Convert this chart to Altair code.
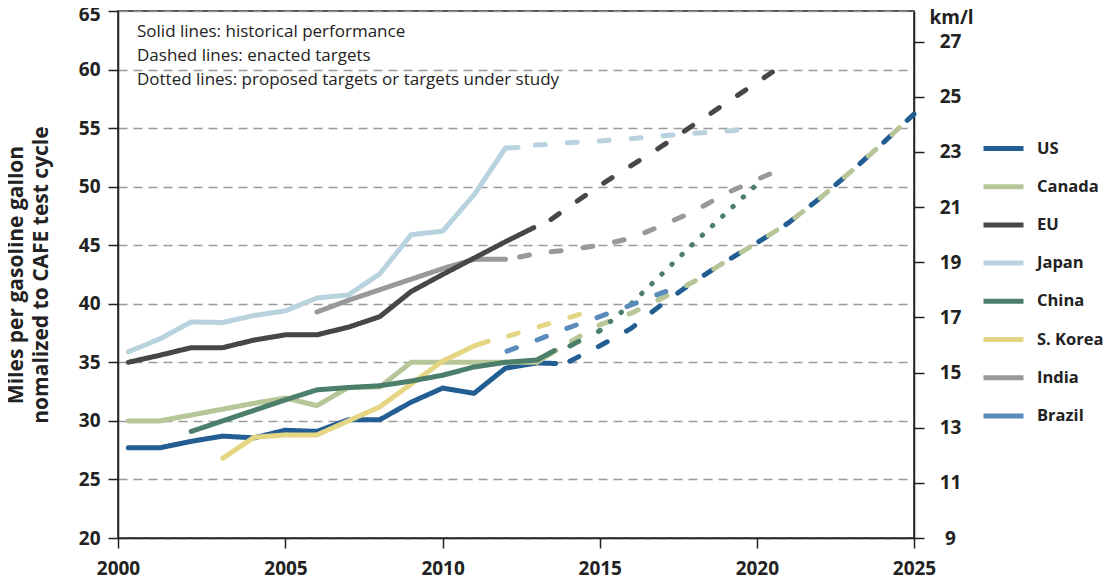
import altair as alt
import pandas as pd

FONT = "Open Sans"

COUNTRIES = ["US", "Canada", "EU", "Japan", "China", "S. Korea", "India", "Brazil"]
COLORS = ["#235e93", "#b6c699", "#474747", "#b8d3de", "#4b7f6a", "#e5d684", "#99999b", "#5b8bbb"]
DRAW_ORDER = ["US", "India", "Japan", "EU", "Canada", "S. Korea", "China", "Brazil"]

# ---- historical performance (solid) ----
US_HIST_YEARS = [2000, 2001, 2002, 2003, 2004, 2005, 2006, 2007, 2008, 2009, 2010, 2011, 2012, 2013, 2013.6]
US_HIST_MPG = [27.7, 27.7, 28.25, 28.7, 28.55, 29.2, 29.1, 30.1, 30.1, 31.6, 32.8, 32.35, 34.5, 34.95, 34.9]

CANADA_HIST_YEARS = [2000, 2001, 2002, 2003, 2004, 2005, 2006, 2007, 2008, 2009, 2010, 2011, 2012, 2013, 2013.6]
CANADA_HIST_MPG = [30.0, 30.0, 30.5, 31.0, 31.5, 31.95, 31.3, 32.85, 32.9, 35.0, 35.0, 35.0, 35.0, 35.0, 36.0]

EU_HIST_YEARS = [2000, 2001, 2002, 2003, 2004, 2005, 2006, 2007, 2008, 2009, 2010, 2011, 2012, 2012.9]
EU_HIST_MPG = [35.0, 35.6, 36.25, 36.25, 36.9, 37.35, 37.35, 38.0, 38.9, 41.05, 42.5, 43.9, 45.3, 46.5]

JAPAN_HIST_YEARS = [2000, 2001, 2002, 2003, 2004, 2005, 2006, 2007, 2008, 2009, 2010, 2011, 2012, 2012.4]
JAPAN_HIST_MPG = [35.9, 37.0, 38.45, 38.4, 39.0, 39.4, 40.5, 40.75, 42.55, 45.9, 46.2, 49.3, 53.3, 53.35]

CHINA_HIST_YEARS = [2002, 2003, 2004, 2005, 2006, 2007, 2008, 2009, 2010, 2011, 2012, 2013, 2013.55]
CHINA_HIST_MPG = [29.1, 30.0, 30.9, 31.8, 32.65, 32.85, 33.0, 33.4, 33.9, 34.6, 35.0, 35.2, 36.0]

KOREA_HIST_YEARS = [2003, 2004, 2005, 2006, 2007, 2008, 2009, 2010, 2011, 2011.45]
KOREA_HIST_MPG = [26.8, 28.6, 28.8, 28.8, 30.0, 31.2, 33.15, 35.1, 36.4, 36.8]

INDIA_HIST_YEARS = [2006, 2007, 2008, 2009, 2010, 2011, 2012]
INDIA_HIST_MPG = [39.3, 40.3, 41.2, 42.1, 43.0, 43.8, 43.8]

# ---- enacted targets (dashed) ----
US_TGT_YEARS = [2014.05, 2015, 2016, 2017, 2018, 2019, 2020, 2021, 2022, 2023, 2024, 2025]
US_TGT_MPG = [35.1, 36.4, 37.9, 40.0, 41.9, 43.6, 45.2, 46.9, 49.0, 51.3, 53.7, 56.2]

CANADA_TGT_YEARS = [2014.1, 2015, 2016, 2017, 2018, 2019, 2020, 2021, 2022, 2023, 2024, 2025]
CANADA_TGT_MPG = [36.8, 38.2, 39.2, 40.5, 41.9, 43.6, 45.2, 46.9, 49.0, 51.3, 53.7, 56.2]

EU_TGT_YEARS = [2013.45, 2014, 2015, 2016, 2017, 2018, 2019, 2020, 2021]
EU_TGT_MPG = [47.2, 48.25, 50.1, 51.8, 53.5, 55.3, 57.1, 58.9, 60.7]

JAPAN_TGT_YEARS = [2012.95, 2014, 2015, 2016, 2017, 2018, 2019, 2019.5]
JAPAN_TGT_MPG = [53.55, 53.75, 53.9, 54.1, 54.35, 54.55, 54.75, 54.85]

CHINA_TGT_YEARS = [2014.05, 2015]
CHINA_TGT_MPG = [36.4, 37.7]

KOREA_TGT_YEARS = [2012.1, 2014.6]
KOREA_TGT_MPG = [37.25, 39.3]

INDIA_TGT_YEARS = [2012.45, 2013, 2014, 2015, 2016, 2017, 2018, 2019, 2020, 2020.55]
INDIA_TGT_MPG = [44.0, 44.3, 44.6, 45.0, 45.6, 46.7, 47.9, 49.4, 50.6, 51.25]

BRAZIL_TGT_YEARS = [2012.05, 2013, 2014, 2015, 2016, 2017, 2017.1]
BRAZIL_TGT_MPG = [35.95, 36.9, 37.95, 38.9, 39.9, 40.95, 41.05]

# ---- proposed targets / under study (dotted) ----
CHINA_PROP_YEARS = [2015, 2016, 2017, 2018, 2019, 2020]
CHINA_PROP_MPG = [37.7, 40.0, 42.6, 45.2, 47.7, 50.2]

SEGMENTS = [
    ("US", "solid", US_HIST_YEARS, US_HIST_MPG),
    ("US", "dashed", US_TGT_YEARS, US_TGT_MPG),
    ("Canada", "solid", CANADA_HIST_YEARS, CANADA_HIST_MPG),
    ("Canada", "dashed", CANADA_TGT_YEARS, CANADA_TGT_MPG),
    ("EU", "solid", EU_HIST_YEARS, EU_HIST_MPG),
    ("EU", "dashed", EU_TGT_YEARS, EU_TGT_MPG),
    ("Japan", "solid", JAPAN_HIST_YEARS, JAPAN_HIST_MPG),
    ("Japan", "dashed", JAPAN_TGT_YEARS, JAPAN_TGT_MPG),
    ("China", "solid", CHINA_HIST_YEARS, CHINA_HIST_MPG),
    ("China", "dashed", CHINA_TGT_YEARS, CHINA_TGT_MPG),
    ("China", "dotted", CHINA_PROP_YEARS, CHINA_PROP_MPG),
    ("S. Korea", "solid", KOREA_HIST_YEARS, KOREA_HIST_MPG),
    ("S. Korea", "dashed", KOREA_TGT_YEARS, KOREA_TGT_MPG),
    ("India", "solid", INDIA_HIST_YEARS, INDIA_HIST_MPG),
    ("India", "dashed", INDIA_TGT_YEARS, INDIA_TGT_MPG),
    ("Brazil", "dashed", BRAZIL_TGT_YEARS, BRAZIL_TGT_MPG),
]

rows = []
for country in DRAW_ORDER:
    for c, style, ys, vs in SEGMENTS:
        if c != country:
            continue
        for y, v in zip(ys, vs):
            rows.append({"country": c, "style": style, "seg": c + "|" + style, "year": y, "mpg": v})
df = pd.DataFrame(rows)

MPG_TICKS = [20, 25, 30, 35, 40, 45, 50, 55, 60, 65]
KML_TICKS = [9, 11, 13, 15, 17, 19, 21, 23, 25, 27]
YEAR_TICKS = [1999.67, 2005, 2010, 2015, 2020, 2025]
NOTE_LINES = [
    "Solid lines: historical performance",
    "Dashed lines: enacted targets",
    "Dotted lines: proposed targets or targets under study",
]

x_scale = alt.Scale(domain=[1999.67, 2025], nice=False, zero=False)

lines = alt.Chart(df).mark_line(strokeWidth=5, strokeCap="round", strokeJoin="round").encode(
    x=alt.X("year:Q", scale=x_scale,
            axis=alt.Axis(values=YEAR_TICKS, labelExpr="format(round(datum.value), 'd')",
                          title=None, grid=False, tickSize=10, labelPadding=11, labelFlush=False,
                          labelFontSize=19, labelFontWeight="bold", labelFont=FONT,
                          labelColor="#222")),
    y=alt.Y("mpg:Q", scale=alt.Scale(domain=[20, 65], nice=False, zero=False),
            axis=alt.Axis(values=MPG_TICKS, title=["Miles per gasoline gallon", "nomalized to CAFE test cycle"],
                          titleFont=FONT, titleFontSize=21, titleFontWeight="bold", titleColor="#222",
                          titleLineHeight=25, titlePadding=27,
                          grid=True, gridDash=[9, 6], gridColor="#9a9a9a", gridWidth=1.3,
                          tickSize=10, labelPadding=8, labelFontSize=19, labelFontWeight="bold",
                          labelFont=FONT, labelColor="#222", labelFlush=False,
                          labelOffset={"condition": {"test": "datum.value == 65", "value": 3}, "value": 0})),
    color=alt.Color("country:N", scale=alt.Scale(domain=COUNTRIES, range=COLORS),
                    legend=alt.Legend(title=None, orient="none", legendX=863, legendY=115,
                                      symbolType="stroke", symbolSize=1600, symbolStrokeWidth=5,
                                      labelFont=FONT, labelFontSize=16.5, labelFontWeight="bold",
                                      labelColor="#222", labelOffset=11, rowPadding=5.2)),
    strokeDash=alt.StrokeDash("style:N",
                              scale=alt.Scale(domain=["solid", "dashed", "dotted"],
                                              range=[[1, 0], [10, 22], [0.5, 13.5]]),
                              legend=None),
    detail="seg:N",
)

notes = alt.Chart(pd.DataFrame({"t": ["\n".join(NOTE_LINES)]})).mark_text(
    align="left", baseline="top", font=FONT, fontSize=17, lineHeight=24, color="#222", lineBreak="\n"
).encode(text="t:N", x=alt.value(19), y=alt.value(12.5))

right = alt.Chart(pd.DataFrame({"kml": KML_TICKS})).mark_point(opacity=0).encode(
    y=alt.Y("kml:Q", scale=alt.Scale(domain=[9, 28.11], nice=False, zero=False),
            axis=alt.Axis(orient="right", values=KML_TICKS, title="km/l", grid=False,
                          titleAngle=0, titleAlign="center", titleBaseline="middle",
                          titleX=37, titleY=6, titleFont=FONT, titleFontSize=19,
                          titleFontWeight="bold", titleColor="#222",
                          tickSize=10, labelAlign="center", labelPadding=26, labelFlush=False,
                          labelFontSize=19, labelFontWeight="bold", labelFont=FONT,
                          labelColor="#222"))
)

chart = alt.layer(lines, notes, right).resolve_scale(y="independent").properties(
    width=796, height=527,
    autosize=alt.AutoSizeParams(type="none"),
    padding={"left": 110, "top": 3, "right": 190, "bottom": 43},
).configure_view(stroke="#222", strokeWidth=1.5).configure_axis(
    domainColor="#222", domainWidth=1.5, tickColor="#222", tickWidth=1.5
)

chart.save("out.html", embed_options={"renderer": "svg", "actions": False})
